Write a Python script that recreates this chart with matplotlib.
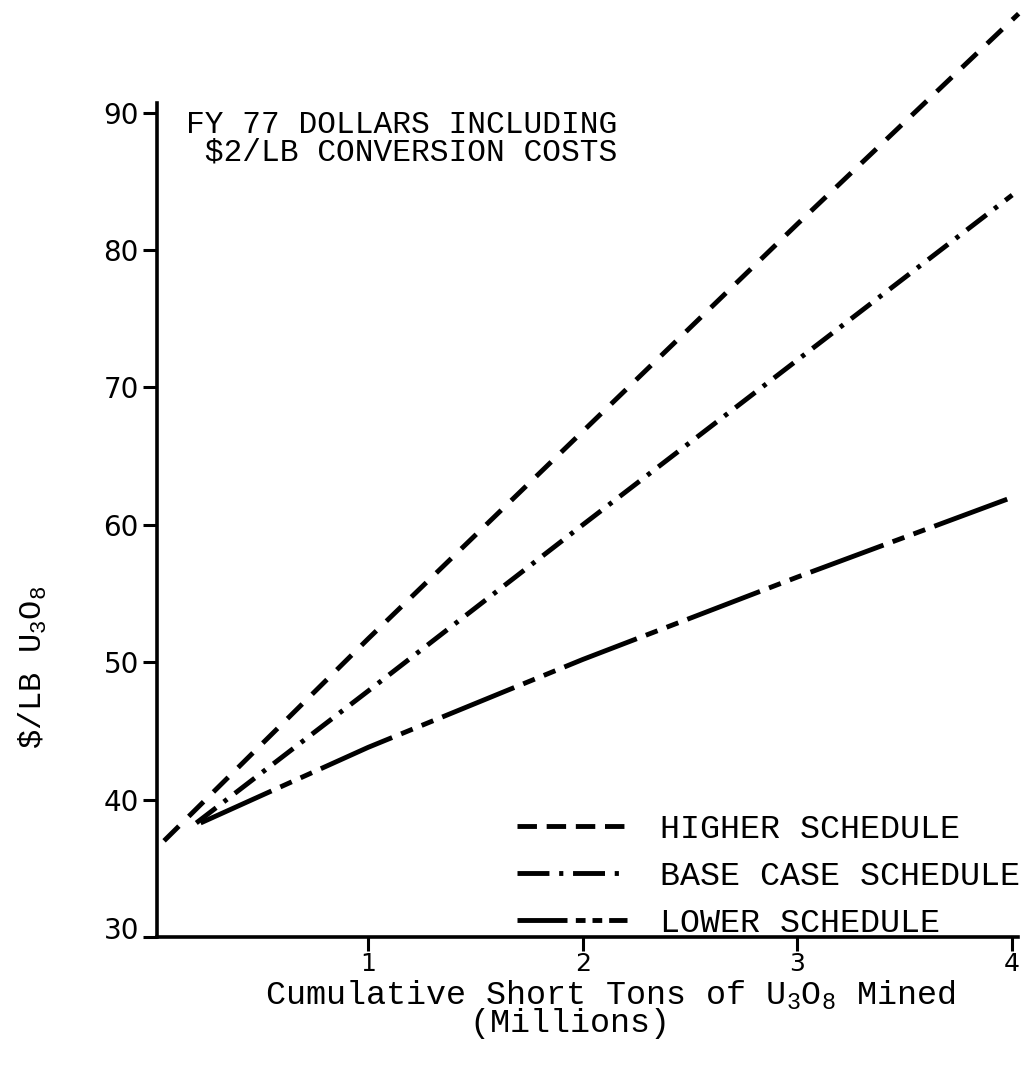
import matplotlib.pyplot as plt
from matplotlib.lines import Line2D
from matplotlib.transforms import ScaledTranslation

# data (millions of short tons, $/lb)
higher_x = [0.05, 1, 2, 3, 4.03]
higher_y = [37.0, 51.7, 66.8, 81.9, 97.2]
base_x = [0.2, 1, 2, 3, 4.0]
base_y = [38.3, 47.9, 60.0, 72.0, 84.0]
lower_x = [0.22, 1, 2, 3, 4.0]
lower_y = [38.3, 43.8, 50.2, 56.2, 62.0]
labels = ["HIGHER SCHEDULE", "BASE CASE SCHEDULE", "LOWER SCHEDULE"]
xticks = [1, 2, 3, 4]
yticks = [30, 40, 50, 60, 70, 80, 90]

plt.rcParams["lines.scale_dashes"] = False
plt.rcParams["mathtext.fontset"] = "custom"
plt.rcParams["mathtext.rm"] = "Liberation Mono"
plt.rcParams["mathtext.default"] = "rm"
MONO = "Liberation Mono"

W, H = 1026, 1068
fig = plt.figure(figsize=(W / 100, H / 100), dpi=100)

def px(x, y):
    return x / W, 1 - y / H

# axes box in pixels: left 157, right 1018, bottom 937, top 103
ax = fig.add_axes([157 / W, 1 - 937 / H, (1018 - 157) / W, (937 - 103) / H])
ax.set_xlim(0.017, 4.027)
ax.set_ylim(30, 90.7)

lw = 3.5
ax.plot(higher_x, higher_y, color="black", lw=lw, linestyle=(0, (15, 10)), clip_on=False)
ax.plot(base_x, base_y, color="black", lw=lw, linestyle=(0, (18, 7, 3, 7)), clip_on=False)
ax.plot(lower_x, lower_y, color="black", lw=lw, linestyle=(0, (56, 7, 9, 7, 9, 7)), clip_on=False)

for side in ["top", "right"]:
    ax.spines[side].set_visible(False)
for side in ["left", "bottom"]:
    ax.spines[side].set_linewidth(2.6)

ax.set_xticks(xticks)
ax.set_xticklabels([str(t) for t in xticks])
ax.set_yticks(yticks)
ax.set_yticklabels([str(t) for t in yticks])
ax.tick_params(axis="both", direction="out", length=10, width=2.2, colors="black")
ax.tick_params(axis="x", labelsize=18, pad=1)
ax.tick_params(axis="y", labelsize=20, pad=3)
# the "30" sits a little above the corner in the original
lab30 = ax.get_yticklabels()[0]
lab30.set_transform(lab30.get_transform() + ScaledTranslation(0, 0.09, fig.dpi_scale_trans))

handles = [
    Line2D([], [], color="black", lw=lw, linestyle=(0, (14, 7))),
    Line2D([], [], color="black", lw=lw, linestyle=(0, (23, 7, 3, 7))),
    Line2D([], [], color="black", lw=lw, linestyle=(0, (36, 6, 7, 5, 7, 5))),
]
ax.legend(handles, labels, loc="upper left", bbox_to_anchor=px(500, 797),
          bbox_transform=fig.transFigure, frameon=False, borderpad=0,
          handlelength=3.3, handletextpad=1.0, labelspacing=0.48,
          prop={"family": MONO, "size": 24})

fig.text(*px(186, 139), "FY 77 DOLLARS INCLUDING\n \\$2/LB CONVERSION COSTS",
         family=MONO, fontsize=22.5, va="center", ha="left", linespacing=0.9)

fig.text(*px(33, 667), "\\$/LB U$_3$O$_8$", family=MONO, fontsize=23,
         rotation=90, va="center", ha="center")
fig.text(*px(610, 1009), "Cumulative Short Tons of U$_3$O$_8$ Mined\n(Millions)    ",
         family=MONO, fontsize=24, va="center", ha="center",
         multialignment="center", linespacing=0.85)

fig.savefig("out.png", dpi=100)
